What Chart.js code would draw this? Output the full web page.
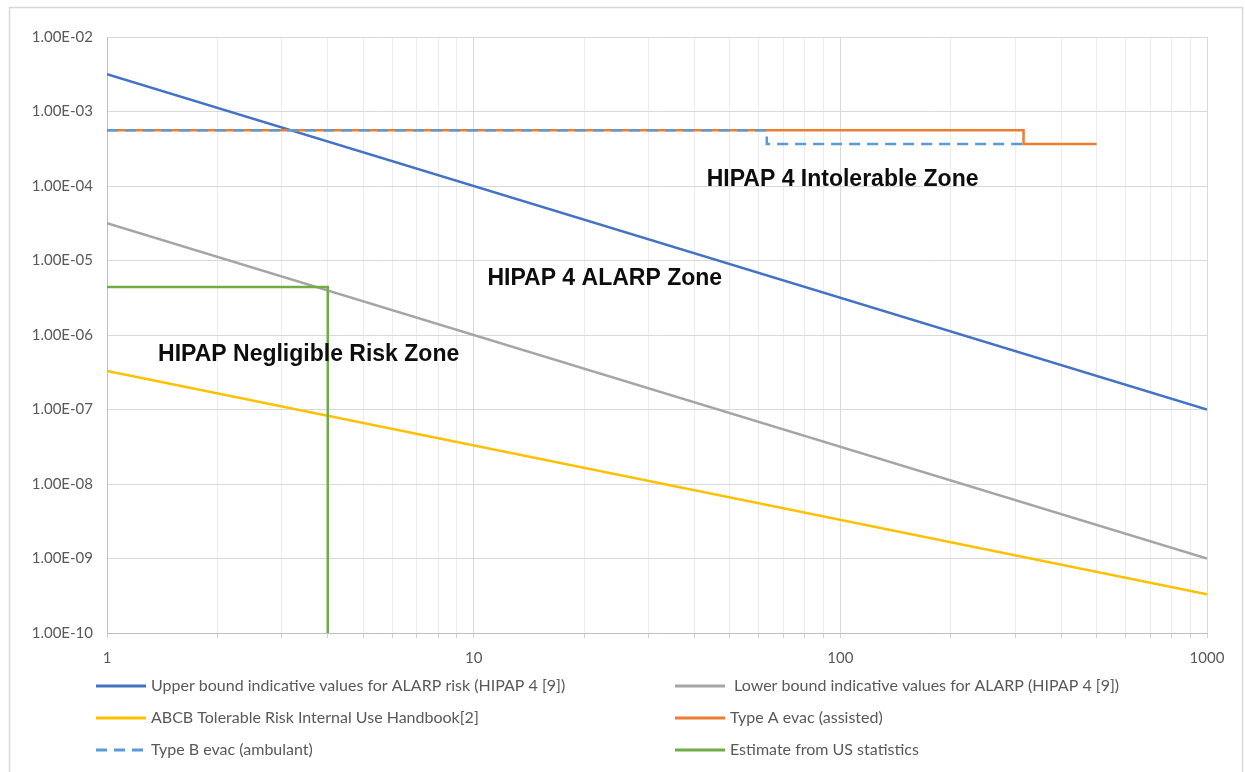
<!DOCTYPE html>
<html>
<head>
<meta charset="utf-8">
<title>Risk criteria vs. number of occupants</title>
<script src="https://cdn.jsdelivr.net/npm/chart.js@4/dist/chart.umd.min.js"></script>
<style>
  html, body { margin: 0; padding: 0; background: #ffffff; }
  #wrap { width: 1245px; height: 772px; position: relative; }
</style>
</head>
<body>
<div id="wrap"><canvas id="chart" width="1245" height="772"></canvas></div>
<script>
// Axis tick values
const xGridValues = [1,2,3,4,5,6,7,8,9,10,20,30,40,50,60,70,80,90,100,200,300,400,500,600,700,800,900,1000];
const xTickLabels = ['1', '10', '100', '1000'];
const yTickValues = [1e-10, 1e-9, 1e-8, 1e-7, 1e-6, 1e-5, 1e-4, 1e-3, 1e-2];

// Series (x = number of people, y = annual risk)
const upperX = [1, 1000];
const upperY = [3.16e-3, 1e-7];
const lowerX = [1, 1000];
const lowerY = [3.16e-5, 1e-9];
const abcbX = [1, 1000];
const abcbY = [3.3e-7, 3.3e-10];
const typeAX = [1, 316, 316, 500];
const typeAY = [5.6e-4, 5.6e-4, 3.65e-4, 3.65e-4];
const typeBX = [1, 63, 63, 316];
const typeBY = [5.6e-4, 5.6e-4, 3.65e-4, 3.65e-4];
const usEstX = [1, 4, 4];
const usEstY = [4.4e-6, 4.4e-6, 1e-10];

const seriesNames = [
  'Upper bound indicative values for ALARP risk (HIPAP 4 [9])',
  ' Lower bound indicative values for ALARP (HIPAP 4 [9])',
  'ABCB Tolerable Risk Internal Use Handbook[2]',
  'Type A evac (assisted)',
  'Type B evac (ambulant)',
  'Estimate from US statistics'
];

// Zone captions, anchored at their left edge in data coordinates
const zoneText = ['HIPAP 4 Intolerable Zone', 'HIPAP 4 ALARP Zone', 'HIPAP Negligible Risk Zone'];
const zoneX = [43.2, 10.9, 1.378];
const zoneY = [1.2e-4, 5.65e-6, 5.4e-7];

const pts = (xs, ys) => xs.map((x, i) => ({ x: x, y: ys[i] }));
const isPow10 = v => Math.abs(Math.log10(v) - Math.round(Math.log10(v))) < 1e-9;
const sci = v => {
  const e = Math.round(Math.log10(v));
  const m = v / Math.pow(10, e);
  const sign = e < 0 ? '-' : '+';
  const ae = Math.abs(e);
  return m.toFixed(2) + 'E' + sign + (ae < 10 ? '0' + ae : '' + ae);
};

const UI_FONT = 'Lato, "Noto Sans", sans-serif';
const TEXT_GREY = '#595959';

const line = (label, data, color, order, dash) => ({
  label: label,
  data: data,
  borderColor: color,
  backgroundColor: color,
  borderWidth: 2.5,
  borderDash: dash || [],
  pointRadius: 0,
  pointHoverRadius: 0,
  showLine: true,
  fill: false,
  tension: 0,
  order: order
});

const datasets = [
  line(seriesNames[0], pts(upperX, upperY), '#4472C4', 3),
  line(seriesNames[1], pts(lowerX, lowerY), '#A5A5A5', 4),
  line(seriesNames[2], pts(abcbX, abcbY), '#FFC000', 5),
  line(seriesNames[3], pts(typeAX, typeAY), '#ED7D31', 2),
  line(seriesNames[4], pts(typeBX, typeBY), '#5B9BD5', 1, [11, 7]),
  line(seriesNames[5], pts(usEstX, usEstY), '#70AD47', 0)
];

// Light frame around the whole chart
const framePlugin = {
  id: 'frame',
  beforeDraw(chart) {
    const ctx = chart.ctx;
    ctx.save();
    ctx.fillStyle = '#ffffff';
    ctx.fillRect(0, 0, chart.width, chart.height);
    ctx.strokeStyle = '#d9d9d9';
    ctx.lineWidth = 1.5;
    ctx.strokeRect(9.5, 7.5, 1233, 780);
    ctx.restore();
  }
};

// Bold zone captions placed through the scales
const zonePlugin = {
  id: 'zones',
  afterDatasetsDraw(chart) {
    const ctx = chart.ctx;
    const xs = chart.scales.x, ys = chart.scales.y;
    ctx.save();
    ctx.font = 'bold 23px "Liberation Sans", Arial, sans-serif';
    ctx.fillStyle = '#0d0d0d';
    ctx.textAlign = 'left';
    ctx.textBaseline = 'middle';
    zoneText.forEach((t, i) => {
      ctx.fillText(t, xs.getPixelForValue(zoneX[i]), ys.getPixelForValue(zoneY[i]));
    });
    ctx.restore();
  }
};

// Two-column legend under the plot
const legendPlugin = {
  id: 'gridLegend',
  afterDraw(chart) {
    const ctx = chart.ctx;
    const colLine = [[96, 146], [675, 725]];
    const colText = [151, 730];
    const rowY = [686, 718, 750];
    ctx.save();
    ctx.font = '16px ' + UI_FONT;
    ctx.fillStyle = TEXT_GREY;
    ctx.textBaseline = 'middle';
    ctx.textAlign = 'left';
    chart.data.datasets.forEach((ds, i) => {
      const r = Math.floor(i / 2), c = i % 2;
      const y = rowY[r];
      ctx.beginPath();
      ctx.strokeStyle = ds.borderColor;
      ctx.lineWidth = 3;
      ctx.setLineDash(ds.borderDash && ds.borderDash.length ? [11, 7] : []);
      ctx.moveTo(colLine[c][0], y);
      ctx.lineTo(colLine[c][1], y);
      ctx.stroke();
      ctx.setLineDash([]);
      ctx.fillText(ds.label, colText[c], y);
    });
    ctx.restore();
  }
};

new Chart(document.getElementById('chart'), {
  type: 'scatter',
  data: { datasets: datasets },
  plugins: [framePlugin, zonePlugin, legendPlugin],
  options: {
    responsive: false,
    devicePixelRatio: 1,
    animation: false,
    layout: { padding: { left: 0, top: 37, right: 38, bottom: 99 } },
    plugins: { legend: { display: false }, tooltip: { enabled: false } },
    scales: {
      x: {
        type: 'logarithmic',
        min: 1,
        max: 1000,
        afterBuildTicks(s) { s.ticks = xGridValues.map(v => ({ value: v, major: isPow10(v) })); },
        afterFit(s) { s.height = 40; },
        ticks: {
          autoSkip: false,
          maxRotation: 0,
          minRotation: 0,
          padding: 11,
          color: TEXT_GREY,
          font: { family: UI_FONT, size: 15 },
          callback(v) {
            if (!isPow10(v)) return '';
            return xTickLabels[Math.round(Math.log10(v))];
          }
        },
        grid: {
          color: c => (c.tick && isPow10(c.tick.value)) ? '#d9d9d9' : '#ececec',
          lineWidth: 1,
          drawTicks: true,
          tickLength: 5,
          tickColor: '#d0d0d0'
        },
        border: { color: '#bfbfbf', width: 1 }
      },
      y: {
        type: 'logarithmic',
        min: 1e-10,
        max: 1e-2,
        afterBuildTicks(s) { s.ticks = yTickValues.map(v => ({ value: v, major: true })); },
        afterFit(s) { s.width = 107; },
        ticks: {
          autoSkip: false,
          padding: 14,
          color: TEXT_GREY,
          font: { family: UI_FONT, size: 15 },
          callback(v) { return sci(v); }
        },
        grid: { color: '#d9d9d9', lineWidth: 1, drawTicks: false },
        border: { color: '#bfbfbf', width: 1 }
      }
    }
  }
});
</script>
</body>
</html>
